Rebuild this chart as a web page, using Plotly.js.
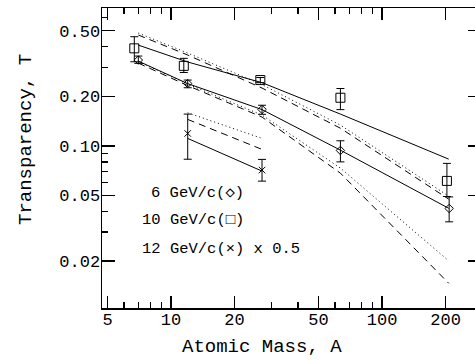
<!DOCTYPE html>
<html>
<head>
<meta charset="utf-8">
<script src="https://cdn.plot.ly/plotly-3.0.1.min.js"></script>
<style>
html,body{margin:0;padding:0;overflow:hidden;background:#fff;}
#chart{width:481px;height:360px;}
</style>
</head>
<body>
<div id="chart"></div>
<script>
// Measured data (6 GeV/c, diamonds)
const A6 = [7, 12, 27, 63.5, 208];
const T6 = [0.332, 0.239, 0.1665, 0.0938, 0.0417];
const T6ErrPlus = [0.019, 0.012, 0.010, 0.0136, 0.0073];
const T6ErrMinus = [0.015, 0.0136, 0.011, 0.0138, 0.0071];

// Measured data (10 GeV/c, squares)
const A10 = [6.7, 11.5, 26.5, 63.5, 203];
const T10 = [0.391, 0.306, 0.251, 0.196, 0.0613];
const T10ErrPlus = [0.069, 0.034, 0.009, 0.027, 0.017];
const T10ErrMinus = [0.067, 0.027, 0.009, 0.030, 0.012];

// Measured data (12 GeV/c, crosses, x 0.5)
const A12 = [12, 27];
const T12 = [0.119, 0.0713];
const T12ErrPlus = [0.037, 0.0115];
const T12ErrMinus = [0.036, 0.0102];

// Calculations
const Acalc = [7, 12, 27, 63.5, 207];
const calc10Solid = [0.409, 0.323, 0.242, 0.156, 0.0831];
const calc10Dashed = [0.471, 0.356, 0.2244, 0.128, 0.0475];
const calc10Dotted = [0.484, 0.366, 0.2355, 0.1337, 0.0495];
const calc6Solid = [0.327, 0.2388, 0.1661, 0.0942, 0.0418];
const calc6Dashed = [0.318, 0.2323, 0.1496, 0.0683, 0.01466];
const calc6Dotted = [0.325, 0.2372, 0.1538, 0.0733, 0.02004];
const Acalc12 = [12, 27];
const calc12Solid = [0.111, 0.0703];
const calc12Dashed = [0.1448, 0.0952];
const calc12Dotted = [0.1588, 0.111];

// Ticks
const xTickVals = [5, 10, 20, 50, 100, 200];
const xTickText = ['5', '10', '20', '50', '100', '200'];
const xMinorVals = [6, 7, 8, 9, 30, 40, 60, 70, 80, 90, 300];
const yTickVals = [0.02, 0.05, 0.1, 0.2, 0.5];
const yTickText = ['0.02', '0.05', '0.10', '0.20', '0.50'];
const yMinorVals = [0.03, 0.04, 0.06, 0.07, 0.08, 0.09, 0.3, 0.4, 0.6];

// Texts
const legendLines = ['6 GeV/c(\u25C7)', '10 GeV/c(\u25A1)', '12 GeV/c(\u00D7) x 0.5'];
const xTitle = 'Atomic Mass, A';
const yTitle = 'Transparency, T';

const FONT = 'Liberation Mono, DejaVu Sans Mono, monospace';

function line(x, y, dash) {
  return {x: x, y: y, type: 'scatter', mode: 'lines', showlegend: false,
    line: {color: '#000', width: 1, dash: dash}, hoverinfo: 'skip'};
}
function pts(x, y, ep, em, sym, size) {
  return {x: x, y: y, type: 'scatter', mode: 'markers', showlegend: false,
    marker: {symbol: sym, size: size, color: '#000', line: {color: '#000', width: 1}},
    error_y: {type: 'data', symmetric: false, array: ep, arrayminus: em,
      color: '#000', thickness: 1, width: 4}};
}

const DASH = '7px,5px';
const DOT = '1px,3px';

const traces = [
  line(Acalc, calc10Solid, 'solid'),
  line(Acalc, calc10Dashed, DASH),
  line(Acalc, calc10Dotted, DOT),
  line(Acalc, calc6Solid, 'solid'),
  line(Acalc, calc6Dashed, DASH),
  line(Acalc, calc6Dotted, DOT),
  line(Acalc12, calc12Solid, 'solid'),
  line(Acalc12, calc12Dashed, DASH),
  line(Acalc12, calc12Dotted, DOT),
  pts(A10, T10, T10ErrPlus, T10ErrMinus, 'square-open', 9),
  pts(A6, T6, T6ErrPlus, T6ErrMinus, 'diamond-open', 6.5),
  pts(A12, T12, T12ErrPlus, T12ErrMinus, 'x-thin-open', 6.5)
];

const L = 102, PW = 379, T = 8, PH = 300;
function px(xp) { return (xp - L) / PW; }
function py(yp) { return 1 - (yp - T) / PH; }

const annotations = [
  {text: legendLines[0], x: px(149), y: py(192.5)},
  {text: legendLines[1], x: px(140), y: py(220)},
  {text: legendLines[2], x: px(140), y: py(248.5)}
].map(a => Object.assign(a, {xref: 'paper', yref: 'paper', xanchor: 'left', yanchor: 'middle',
  showarrow: false, font: {family: FONT, size: 15.5, color: '#000'}}));

annotations.push({text: xTitle, xref: 'paper', yref: 'paper', x: px(261.7), y: py(347),
  xanchor: 'center', yanchor: 'middle', showarrow: false,
  font: {family: FONT, size: 19, color: '#000'}});
annotations.push({text: yTitle, xref: 'paper', yref: 'paper', x: px(26), y: py(140),
  xanchor: 'center', yanchor: 'middle', showarrow: false, textangle: -90,
  font: {family: FONT, size: 19, color: '#000'}});

const layout = {
  width: 481, height: 360,
  margin: {l: L, r: 0, t: T, b: 52, pad: 0},
  paper_bgcolor: '#fff', plot_bgcolor: '#fff',
  showlegend: false,
  font: {family: FONT, color: '#000'},
  xaxis: {
    type: 'log', range: [0.673, 2.469],
    tickmode: 'array', tickvals: xTickVals, ticktext: xTickText,
    ticks: 'inside', ticklen: 12, tickwidth: 1.5, tickcolor: '#000',
    ticklabelstandoff: -5,
    showline: true, linecolor: '#000', linewidth: 1.5, mirror: 'allticks',
    showgrid: false, zeroline: false,
    tickfont: {family: FONT, size: 17, color: '#000'},
    minor: {tickmode: 'array', tickvals: xMinorVals, ticks: 'inside', ticklen: 6,
      tickwidth: 1.5, tickcolor: '#000', showgrid: false},
    title: {text: ''}
  },
  yaxis: {
    type: 'log', range: [-1.984, -0.163],
    tickmode: 'array', tickvals: yTickVals, ticktext: yTickText,
    ticks: 'inside', ticklen: 13, tickwidth: 1.5, tickcolor: '#000',
    ticklabelstandoff: -3,
    showline: true, linecolor: '#000', linewidth: 1.5, mirror: 'allticks',
    showgrid: false, zeroline: false,
    tickfont: {family: FONT, size: 17, color: '#000'},
    minor: {tickmode: 'array', tickvals: yMinorVals, ticks: 'inside', ticklen: 6,
      tickwidth: 1.5, tickcolor: '#000', showgrid: false},
    title: {text: ''}
  },
  annotations: annotations
};

Plotly.newPlot('chart', traces, layout, {displayModeBar: false, staticPlot: true});
</script>
</body>
</html>
